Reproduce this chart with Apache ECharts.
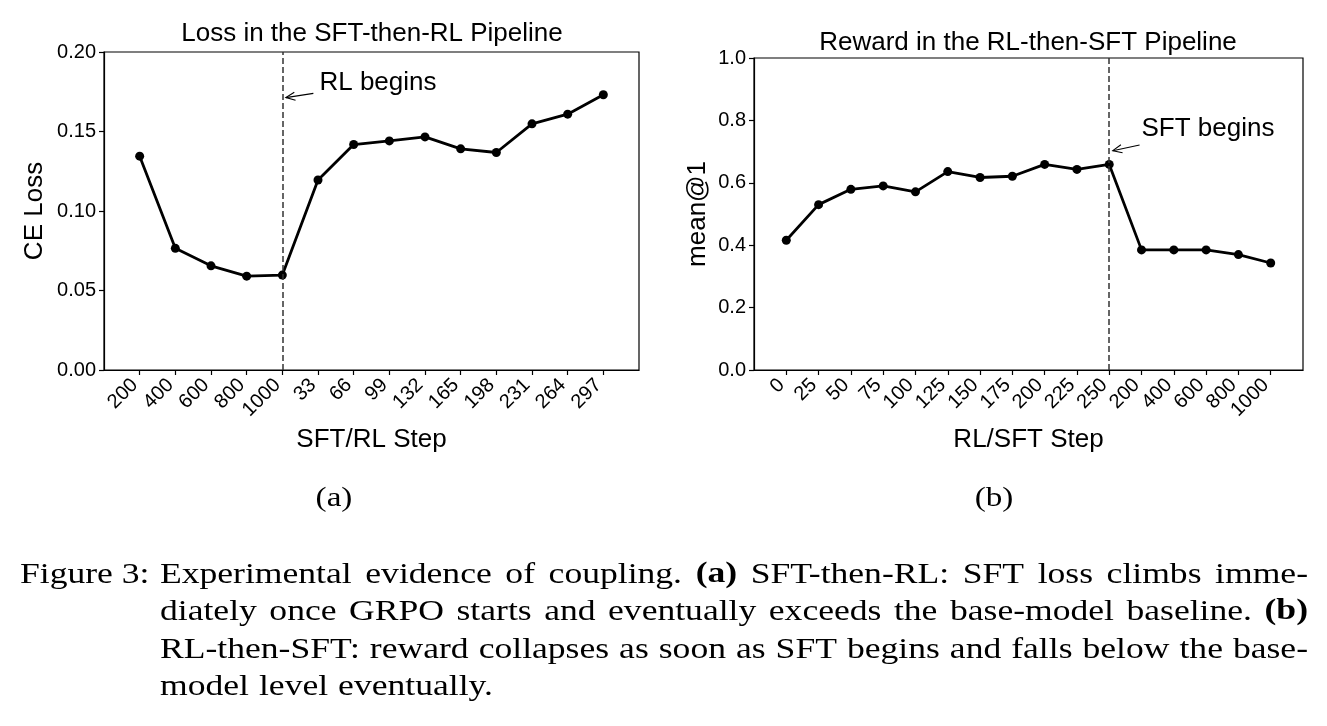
<!DOCTYPE html>
<html>
<head>
<meta charset="utf-8">
<script src="https://cdn.jsdelivr.net/npm/echarts@6/dist/echarts.min.js"></script>
<style>
html, body { margin: 0; padding: 0; background: #fff; }
#main { width: 1327px; height: 726px; }
</style>
</head>
<body>
<div id="main"></div>
<script>
// (a) SFT-then-RL: CE loss
var lossSteps = ['200', '400', '600', '800', '1000', '33', '66', '99', '132', '165', '198', '231', '264', '297'];
var lossValues = [0.1345, 0.0765, 0.0655, 0.0590, 0.0597, 0.1195, 0.1418, 0.1441, 0.1466, 0.1391, 0.1368, 0.1548, 0.1609, 0.1731];
var lossTicks = [0, 0.05, 0.10, 0.15, 0.20];

// (b) RL-then-SFT: reward
var rewardSteps = ['0', '25', '50', '75', '100', '125', '150', '175', '200', '225', '250', '200', '400', '600', '800', '1000'];
var rewardValues = [0.416, 0.530, 0.579, 0.590, 0.571, 0.636, 0.617, 0.621, 0.659, 0.643, 0.659, 0.385, 0.385, 0.385, 0.370, 0.343];
var rewardTicks = [0, 0.2, 0.4, 0.6, 0.8, 1.0];

var rlBeginsIndex = 4;
var sftBeginsIndex = 10;

var SANS = '"Liberation Sans", Arial, sans-serif';
var SERIF = '"Liberation Serif", "Times New Roman", serif';

function indexList(arr) {
    return arr.map(function (v, i) { return i; });
}

function makeXAxis(gridIndex, steps, name) {
    return {
        type: 'value',
        gridIndex: gridIndex,
        min: -1,
        max: steps.length,
        axisLine: { show: true, onZero: false, lineStyle: { color: '#000', width: 1.2 } },
        axisTick: { show: true, customValues: indexList(steps), length: 5, lineStyle: { color: '#000', width: 1.2 } },
        axisLabel: {
            customValues: indexList(steps),
            rotate: 45,
            margin: 7,
            padding: [0, 7, 0, 0],
            color: '#000',
            fontSize: 20,
            fontFamily: SANS,
            formatter: function (v) { return steps[Math.round(v)]; }
        },
        splitLine: { show: false },
        name: name,
        nameLocation: 'middle',
        nameGap: 57,
        nameTextStyle: { color: '#000', fontSize: 26, fontFamily: SANS, verticalAlign: 'top' }
    };
}

function makeYAxis(gridIndex, ticks, digits, name, gap) {
    return {
        type: 'value',
        gridIndex: gridIndex,
        min: ticks[0],
        max: ticks[ticks.length - 1],
        axisLine: { show: true, onZero: false, lineStyle: { color: '#000', width: 1.2 } },
        axisTick: { show: true, customValues: ticks, length: 5, lineStyle: { color: '#000', width: 1.2 } },
        axisLabel: {
            customValues: ticks,
            margin: 8,
            color: '#000',
            fontSize: 20,
            fontFamily: SANS,
            formatter: function (v) { return v.toFixed(digits); }
        },
        splitLine: { show: false },
        name: name,
        nameLocation: 'middle',
        nameRotate: 90,
        nameGap: gap,
        nameTextStyle: { color: '#000', fontSize: 26, fontFamily: SANS }
    };
}

function makeSeries(axisIndex, values, beginsIndex) {
    return {
        type: 'line',
        xAxisIndex: axisIndex,
        yAxisIndex: axisIndex,
        data: values.map(function (v, i) { return [i, v]; }),
        symbol: 'circle',
        symbolSize: 9,
        showAllSymbol: true,
        lineStyle: { color: '#000', width: 2.8 },
        itemStyle: { color: '#000' },
        z: 3,
        markLine: {
            silent: true,
            symbol: ['none', 'none'],
            label: { show: false },
            lineStyle: { color: '#333', type: [6, 3], width: 1.5 },
            emphasis: { disabled: true },
            data: [{ xAxis: beginsIndex }]
        }
    };
}

var myChart = echarts.init(document.getElementById('main'), null, { renderer: 'canvas' });

var option = {
    backgroundColor: '#fff',
    animation: false,
    grid: [
        { left: 104, top: 52, width: 535, height: 318, show: true, borderColor: '#000', borderWidth: 1.2, outerBoundsMode: 'none' },
        { left: 754, top: 58, width: 549, height: 312, show: true, borderColor: '#000', borderWidth: 1.2, outerBoundsMode: 'none' }
    ],
    xAxis: [
        makeXAxis(0, lossSteps, 'SFT/RL Step'),
        makeXAxis(1, rewardSteps, 'RL/SFT Step')
    ],
    yAxis: [
        makeYAxis(0, lossTicks, 2, 'CE Loss', 56),
        makeYAxis(1, rewardTicks, 1, 'mean@1', 43)
    ],
    series: [
        makeSeries(0, lossValues, rlBeginsIndex),
        makeSeries(1, rewardValues, sftBeginsIndex)
    ]
};
myChart.setOption(option);

// annotations, titles and caption
function px(axis, x, y) {
    return myChart.convertToPixel({ xAxisIndex: axis, yAxisIndex: axis }, [x, y]);
}

function arrowParts(tail, head) {
    var ang = Math.atan2(head[1] - tail[1], head[0] - tail[0]);
    var len = 10, spread = 0.42;
    var a1 = [head[0] - len * Math.cos(ang - spread), head[1] - len * Math.sin(ang - spread)];
    var a2 = [head[0] - len * Math.cos(ang + spread), head[1] - len * Math.sin(ang + spread)];
    return [
        { type: 'polyline', shape: { points: [tail, head] }, style: { stroke: '#000', lineWidth: 1.1, fill: null } },
        { type: 'polyline', shape: { points: [a1, head, a2] }, style: { stroke: '#000', lineWidth: 1.1, fill: null } }
    ];
}

function label(x, y, text, size, font, align, weight, sx) {
    return {
        type: 'text',
        x: x,
        y: y,
        scaleX: sx || 1,
        style: {
            text: text,
            fill: '#000',
            font: (weight || 'normal') + ' ' + size + 'px ' + font,
            align: align || 'left',
            verticalAlign: 'middle'
        }
    };
}

var graphics = [];
graphics.push(label(372, 34, 'Loss in the SFT-then-RL Pipeline', 26, SANS, 'center'));
graphics.push(label(1028, 43, 'Reward in the RL-then-SFT Pipeline', 26, SANS, 'center'));

var t1 = px(0, 5.04, 0.1807);
graphics.push(label(t1[0], t1[1], 'RL begins', 26, SANS, 'left'));
graphics = graphics.concat(arrowParts(px(0, 4.87, 0.174), px(0, 4.1, 0.1713)));

var t2 = px(1, 11.0, 0.7724);
graphics.push(label(t2[0], t2[1], 'SFT begins', 26, SANS, 'left'));
graphics = graphics.concat(arrowParts(px(1, 10.94, 0.721), px(1, 10.11, 0.703)));

// caption, justified like the LaTeX original
var capSize = 29;
var capLines = [
    'Experimental evidence of coupling. *(a)* SFT-then-RL: SFT loss climbs imme-',
    'diately once GRPO starts and eventually exceeds the base-model baseline. *(b)*',
    'RL-then-SFT: reward collapses as soon as SFT begins and falls below the base-',
    'model level eventually.'
];
var capY = [575, 612, 650, 687];
var capLeft = 160, capRight = 1308, wordGap = 10;
var ctx = document.createElement('canvas').getContext('2d');

var parsed = capLines.map(function (line) {
    return line.split(' ').map(function (w) {
        var bold = w.charAt(0) === '*';
        var txt = bold ? w.replace(/\*/g, '') : w;
        ctx.font = (bold ? 'bold ' : 'normal ') + capSize + 'px ' + SERIF;
        return { text: txt, bold: bold, w: ctx.measureText(txt).width };
    });
});

// horizontal stretch so the serif face has roughly the width of Computer Modern
var sx = 10;
parsed.forEach(function (words, li) {
    if (li === parsed.length - 1) return;
    var total = words.reduce(function (s, w) { return s + w.w; }, 0);
    sx = Math.min(sx, (capRight - capLeft - (words.length - 1) * wordGap) / total);
});

graphics.push(label(20, capY[0], 'Figure 3:', capSize, SERIF, 'left', 'normal', sx));
graphics.push(label(334, 499, '(a)', 27, SERIF, 'center', 'normal', sx));
graphics.push(label(994, 499, '(b)', 27, SERIF, 'center', 'normal', sx));

parsed.forEach(function (words, li) {
    var total = words.reduce(function (s, w) { return s + w.w * sx; }, 0);
    var gap = wordGap;
    if (li < parsed.length - 1) {
        gap = (capRight - capLeft - total) / (words.length - 1);
    }
    var x = capLeft;
    words.forEach(function (w) {
        graphics.push(label(x, capY[li], w.text, capSize, SERIF, 'left', w.bold ? 'bold' : 'normal', sx));
        x += w.w * sx + gap;
    });
});

myChart.setOption({ graphic: graphics });
</script>
</body>
</html>
